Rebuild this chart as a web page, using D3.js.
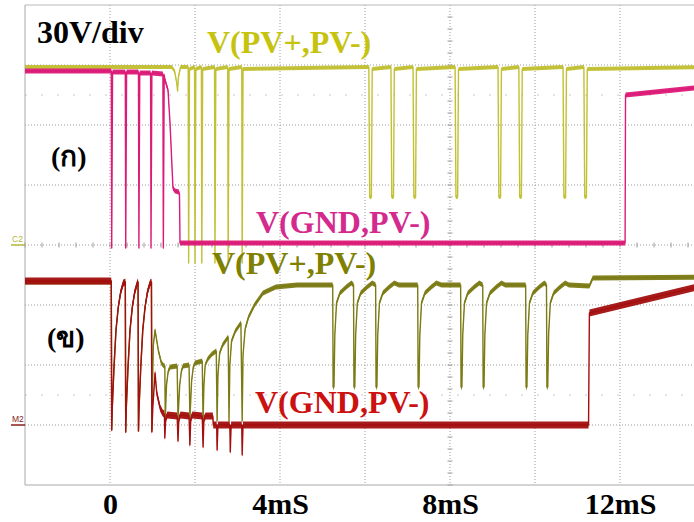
<!DOCTYPE html>
<html>
<head>
<meta charset="utf-8">
<script src="https://cdn.jsdelivr.net/npm/d3@7"></script>
<style>
  html, body { margin: 0; padding: 0; background: #fff; }
  svg { display: block; }
  .lbl { font-family: "Liberation Serif", "Times New Roman", serif; font-weight: bold; }
</style>
</head>
<body>
<svg id="chart" width="694" height="522"></svg>
<script>
// Time axis (ms) and its printed labels
const timeTicks = [0, 4, 8, 12];
const timeLabels = ["0", "4mS", "8mS", "12mS"];

// Panel (ก): V(PV+,PV-) in volts vs time in ms, referenced to marker C2
const pvTop = [
  [-2.2, 89], [1.45, 89], [1.52, 87], [1.57, 81], [1.59, 77], [1.61, 84], [1.66, 89],
  [1.84, 89], [1.85, -9], [1.87, 88],
  [1.99, 89], [2.0, -9], [2.02, 88],
  [2.15, 89], [2.16, -9], [2.18, 88],
  [2.46, 89], [2.47, -9], [2.49, 88],
  [2.77, 89], [2.78, -9], [2.8, 88],
  [3.1, 89], [3.11, -9], [3.13, 88],
  [6.09, 89], [6.11, 24], [6.15, 24], [6.17, 88],
  [6.61, 89], [6.63, 24], [6.67, 24], [6.69, 88],
  [7.13, 89], [7.15, 24], [7.19, 24], [7.21, 88],
  [8.12, 89], [8.14, 24], [8.18, 24], [8.2, 88],
  [9.13, 89], [9.15, 24], [9.19, 24], [9.21, 88],
  [9.62, 89], [9.64, 24], [9.68, 24], [9.7, 88],
  [10.66, 89], [10.68, 24], [10.72, 24], [10.74, 88],
  [11.15, 89], [11.17, 24], [11.21, 24], [11.23, 88],
  [14.2, 89]
];

// Panel (ก): V(GND,PV-)
const gndTop = [
  [-2.2, 87], [0.03, 87], [0.04, -1.5], [0.06, 86.5],
  [0.36, 86.5], [0.37, -1.5], [0.39, 86.5],
  [0.67, 86.5], [0.68, -1.5], [0.7, 86],
  [0.955, 86], [0.965, -1.5], [0.985, 86],
  [1.245, 85.5], [1.255, -1.5], [1.275, 85],
  [1.294, 82.5], [1.365, 77.5], [1.412, 61], [1.459, 39], [1.482, 28.5],
  [1.53, 27], [1.62, 26.5], [1.635, 25], [1.647, 1],
  [12.12, 1], [12.13, 75], [14.2, 79.5]
];

// Panel (ข): V(PV+,PV-), referenced to marker M2
const pvBot = [
  [-2.2, 71.5], [0.03, 71.5], [0.04, -2.5], [0.054, 9], [0.094, 29], [0.141, 47.5], [0.195, 59], [0.252, 66.5], [0.313, 71], [0.36, 71.5],
  [0.37, -3.5], [0.384, 9], [0.424, 29], [0.471, 47.5], [0.525, 59], [0.582, 66.5], [0.643, 71], [0.66, 71.5],
  [0.67, -3], [0.684, 9], [0.724, 29], [0.771, 47.5], [0.825, 59], [0.882, 66.5], [0.943, 71], [0.975, 71.5],
  [0.985, -3], [1.0, 20], [1.02, 40], [1.06, 47.5], [1.14, 37], [1.21, 31], [1.27, 29.5],
  [1.29, 29.5], [1.3, 3], [1.33, 20], [1.37, 27], [1.42, 29], [1.58, 29.5],
  [1.6, 3], [1.64, 20], [1.68, 27], [1.72, 29.5], [1.86, 30],
  [1.88, 3], [1.92, 22], [1.96, 29], [2.0, 31], [2.17, 32],
  [2.19, 2], [2.21, 20], [2.24, 30], [2.3, 33], [2.4, 35.5], [2.5, 37],
  [2.52, 2], [2.54, 25], [2.58, 36], [2.65, 40], [2.78, 44],
  [2.8, 2], [2.82, 30], [2.86, 42], [2.95, 47], [3.08, 51],
  [3.11, 2], [3.13, 35], [3.18, 48], [3.26, 54], [3.4, 60], [3.6, 66], [3.9, 69], [4.4, 70], [5.24, 70],
  [5.25, 19], [5.27, 19], [5.29, 45], [5.33, 61], [5.41, 66], [5.56, 69], [5.68, 71],
  [5.73, 70], [5.74, 19], [5.76, 19], [5.78, 45], [5.82, 61], [5.9, 66], [6.05, 69], [6.17, 71],
  [6.25, 70], [6.26, 19], [6.28, 19], [6.3, 45], [6.34, 61], [6.42, 66], [6.57, 69], [6.69, 71], [6.8, 70],
  [7.24, 70], [7.25, 19], [7.27, 19], [7.29, 45], [7.33, 61], [7.41, 66], [7.56, 69], [7.68, 71], [7.8, 70],
  [8.25, 70], [8.26, 19], [8.28, 19], [8.3, 45], [8.34, 61], [8.42, 66], [8.57, 69], [8.69, 71],
  [8.77, 70], [8.78, 19], [8.8, 19], [8.82, 45], [8.86, 61], [8.94, 66], [9.09, 69], [9.21, 71], [9.3, 70],
  [9.78, 70], [9.79, 19], [9.81, 19], [9.83, 45], [9.87, 61], [9.95, 66], [10.1, 69], [10.22, 71],
  [10.27, 70], [10.28, 19], [10.3, 19], [10.32, 45], [10.36, 61], [10.44, 66], [10.59, 69], [10.71, 71], [10.8, 70],
  [11.28, 69.5], [11.36, 73.5], [14.2, 74]
];

// Panel (ข): V(GND,PV-)
const gndBot = [
  [-2.2, 72], [0.03, 72], [0.04, -2.5], [0.054, 9], [0.094, 29], [0.141, 47.5], [0.195, 59], [0.252, 66.5], [0.313, 71], [0.36, 71.5],
  [0.37, -3.5], [0.384, 9], [0.424, 29], [0.471, 47.5], [0.525, 59], [0.582, 66.5], [0.643, 71], [0.66, 71.5],
  [0.67, -3], [0.684, 9], [0.724, 29], [0.771, 47.5], [0.825, 59], [0.882, 66.5], [0.943, 71], [0.975, 71.5],
  [0.985, -3.5], [1.01, 10], [1.06, 26], [1.1, 16], [1.18, 8.5], [1.24, 6], [1.28, 5.5],
  [1.29, -6.5], [1.31, 3], [1.35, 5], [1.58, 4.5],
  [1.6, -8], [1.62, 3], [1.66, 5], [1.86, 4.5],
  [1.88, -10], [1.9, 3], [1.94, 5], [2.17, 4.5],
  [2.19, -11], [2.21, 3], [2.25, 4.5], [2.42, 4.5], [2.43, 0],
  [2.51, 0], [2.52, -12.5], [2.54, 0],
  [2.82, 0], [2.83, -13.5], [2.85, 0],
  [3.1, 0], [3.11, -15], [3.13, 0],
  [11.26, 0], [11.28, 56], [14.2, 71]
];

// Peak-to-peak ripple of each channel (V)
const ripple = { pvTop: 2, gndTop: 2.5, pvBot: 2.5, gndBot: 3.5 };

(function () {
  const svg = d3.select("#chart");
  const left = 25, topEdge = 5, bottomEdge = 485;

  const x = d3.scaleLinear().domain([-2, 18]).range([left, 875]);
  const yTop = d3.scaleLinear().domain([-120, 120]).range([bottomEdge, topEdge]);   // C2 reference at centre
  const yBot = d3.scaleLinear().domain([-30, 210]).range([bottomEdge, topEdge]);    // M2 reference one division up

  svg.append("defs").append("clipPath").attr("id", "screen")
    .append("rect").attr("x", left).attr("y", 0).attr("width", 694 - left).attr("height", bottomEdge + 2);

  const grid = svg.append("g");
  const gridColor = "#9c9c9c";

  // vertical divisions (2 ms each)
  grid.selectAll("line.v").data(d3.range(0, 18, 2)).join("line")
    .attr("x1", d => x(d)).attr("x2", d => x(d))
    .attr("y1", topEdge).attr("y2", bottomEdge)
    .attr("stroke", gridColor).attr("stroke-width", 1).attr("stroke-dasharray", "1,2");

  // horizontal divisions (30 V each)
  grid.selectAll("line.h").data(d3.range(-90, 120, 30)).join("line")
    .attr("x1", left).attr("x2", 875)
    .attr("y1", d => yTop(d)).attr("y2", d => yTop(d))
    .attr("stroke", gridColor).attr("stroke-width", 1).attr("stroke-dasharray", "1,2");

  // faint half-division rows
  grid.selectAll("line.f").data([yTop(75), yBot(15)]).join("line")
    .attr("x1", left).attr("x2", 875).attr("y1", d => d).attr("y2", d => d)
    .attr("stroke", "#c8c8c8").attr("stroke-width", 1).attr("stroke-dasharray", "2,14");

  // minor ticks on the centre axes
  grid.selectAll("line.tx").data(d3.range(-2, 18, 0.4)).join("line")
    .attr("x1", d => x(d)).attr("x2", d => x(d))
    .attr("y1", yTop(0) - 2.5).attr("y2", yTop(0) + 2.5)
    .attr("stroke", gridColor).attr("stroke-width", 1);
  grid.selectAll("line.ty").data(d3.range(-120, 120, 6)).join("line")
    .attr("x1", x(8) - 2.5).attr("x2", x(8) + 2.5)
    .attr("y1", d => yTop(d)).attr("y2", d => yTop(d))
    .attr("stroke", gridColor).attr("stroke-width", 1);

  // screen frame
  svg.append("line").attr("x1", left).attr("x2", left).attr("y1", topEdge).attr("y2", bottomEdge)
    .attr("stroke", "#a8a8a8").attr("stroke-width", 1);
  svg.append("line").attr("x1", left).attr("x2", 694).attr("y1", topEdge).attr("y2", topEdge)
    .attr("stroke", "#b8b8b8").attr("stroke-width", 1);
  svg.append("line").attr("x1", left).attr("x2", 694).attr("y1", bottomEdge).attr("y2", bottomEdge)
    .attr("stroke", "#a8a8a8").attr("stroke-width", 1);

  // channel reference markers
  const markers = [
    { name: "C2", y: yTop(0), color: "#b5b53a" },
    { name: "M2", y: yBot(0), color: "#8a1c1c" }
  ];
  markers.forEach(m => {
    svg.append("line").attr("x1", 11).attr("x2", left).attr("y1", m.y).attr("y2", m.y)
      .attr("stroke", m.color).attr("stroke-width", 1.5);
    svg.append("text").attr("x", 12).attr("y", m.y - 3).text(m.name)
      .attr("font-family", "Liberation Sans, Arial, sans-serif").attr("font-size", 8.5)
      .attr("fill", m.color);
  });

  // traces
  const traces = svg.append("g").attr("clip-path", "url(#screen)");
  function drawTrace(data, y, color, rip) {
    const area = d3.area().x(d => x(d[0])).y0(d => y(d[1] - rip / 2)).y1(d => y(d[1] + rip / 2));
    const line = d3.line().x(d => x(d[0])).y(d => y(d[1]));
    traces.append("path").datum(data).attr("d", area).attr("fill", color).attr("opacity", 0.95);
    traces.append("path").datum(data).attr("d", line).attr("fill", "none")
      .attr("stroke", color).attr("stroke-width", 1.4).attr("stroke-linejoin", "round");
  }
  drawTrace(pvTop, yTop, "#c2c034", ripple.pvTop);
  drawTrace(gndTop, yTop, "#dc1a78", ripple.gndTop);
  drawTrace(pvBot, yBot, "#7b7a14", ripple.pvBot);
  drawTrace(gndBot, yBot, "#a30f0f", ripple.gndBot);

  // text labels
  const labels = [
    { text: "30V/div", x: 37, y: 43, color: "#000", size: 32 },
    { text: "V(PV+,PV-)", x: 207, y: 53, color: "#c6c30f", size: 32 },
    { text: "(ก)", x: 51, y: 166, color: "#000", size: 28 },
    { text: "V(GND,PV-)", x: 256, y: 233, color: "#d42a8e", size: 32 },
    { text: "V(PV+,PV-)", x: 212, y: 274, color: "#808000", size: 32 },
    { text: "(ข)", x: 47, y: 347, color: "#000", size: 28 },
    { text: "V(GND,PV-)", x: 255, y: 413, color: "#cc1111", size: 32 }
  ];
  svg.selectAll("text.lbl").data(labels).join("text")
    .attr("class", "lbl")
    .attr("x", d => d.x).attr("y", d => d.y)
    .attr("fill", d => d.color).attr("font-size", d => d.size)
    .text(d => d.text);

  // time axis labels
  const axis = d3.axisBottom(x).tickValues(timeTicks)
    .tickFormat((d, i) => timeLabels[i]).tickSize(0).tickPadding(0);
  const ax = svg.append("g").attr("transform", "translate(0,514)").call(axis);
  ax.select(".domain").remove();
  ax.selectAll("text")
    .attr("class", "lbl").attr("font-size", 30).attr("fill", "#000")
    .attr("font-family", null)
    .attr("y", 0).attr("dy", 0);
})();
</script>
</body>
</html>
